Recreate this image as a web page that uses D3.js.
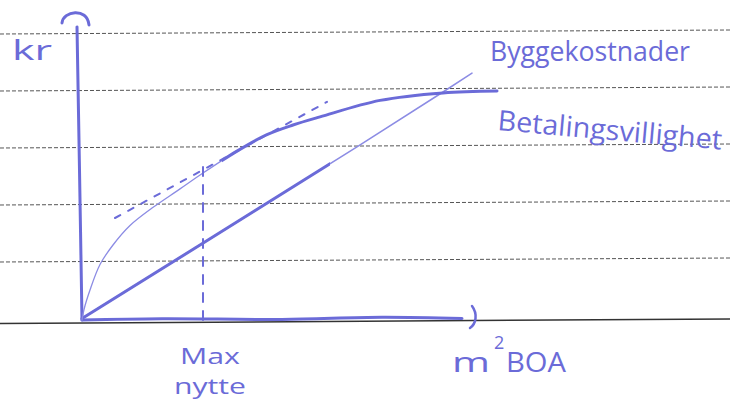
<!DOCTYPE html>
<html>
<head>
<meta charset="utf-8">
<script src="https://cdn.jsdelivr.net/npm/d3@7"></script>
<style>
    body { margin: 0; background: #ffffff; }
    text { font-family: "Open Sans", "DejaVu Sans", sans-serif; fill: #6b6bd8; }
</style>
</head>
<body>
<div id="wrapper"></div>
<script>
// values (x: m2 BOA, y: kr, both on a 0-100 scale)
const costPoints = [[0, 0.5], [29.5, 25], [68.75, 57.7], [90.25, 76], [97.5, 82.3]]
const payPoints = [[0, 0], [0.5, 3.5], [2, 10], [4.5, 18.5], [7.75, 25], [12, 31.5], [17.5, 37.3], [24.5, 43.7],
    [30.25, 49], [38.75, 56.3], [46.25, 61.8], [52.75, 65], [59.5, 67.7], [74.5, 73.2], [90.25, 75.7], [103.75, 76.3]]
const tangentPoints = [[8.25, 34], [61.25, 72.7]]
const maxUtility = { x: 30.25, top: 51 }
const xAxisEnd = 95
const yAxisTop = { x: -1.25, y: 97.7 }

const costLabel = "Byggekostnader"
const payLabel = "Betalingsvillighet"
const yLabel = "kr"
const xLabel = ["m", "2", "BOA"]
const maxLabel = ["Max", "nytte"]

const ink = "#6b6bd8"
const inkLight = "#8c8ce4"

function drawSketch() {
    const dimensions = { width: 730, height: 407 }

    const wrapper = d3.select("#wrapper")
        .append("svg")
        .attr("width", dimensions.width)
        .attr("height", dimensions.height)

    // ruled paper
    const paper = wrapper.append("g")
    d3.range(5).forEach(i => {
        const y = 34 + i * 57
        paper.append("line")
            .attr("x1", 0).attr("y1", y)
            .attr("x2", dimensions.width).attr("y2", y - 4)
            .attr("stroke", "#555")
            .attr("stroke-width", 1)
            .attr("stroke-dasharray", "4,2")
    })
    paper.append("line")
        .attr("x1", 0).attr("y1", 323.5)
        .attr("x2", dimensions.width).attr("y2", 319)
        .attr("stroke", "#333")
        .attr("stroke-width", 1.5)

    const xScale = d3.scaleLinear().domain([0, 100]).range([82, 482])
    const yScale = d3.scaleLinear().domain([0, 100]).range([320, 20])

    // clip areas for the parts drawn with heavier ink
    const defs = wrapper.append("defs")
    defs.append("clipPath").attr("id", "costThick")
        .append("rect")
        .attr("x", 0).attr("y", 0)
        .attr("width", xScale(62)).attr("height", dimensions.height)
    defs.append("clipPath").attr("id", "payThick")
        .append("rect")
        .attr("x", xScale(35)).attr("y", 0)
        .attr("width", dimensions.width).attr("height", dimensions.height)

    const bounds = wrapper.append("g")
        .attr("fill", "none")
        .attr("stroke-linecap", "round")
        .attr("stroke-linejoin", "round")

    const curveLine = d3.line()
        .x(d => xScale(d[0]))
        .y(d => yScale(d[1]))
        .curve(d3.curveCatmullRom)

    const straightLine = d3.line()
        .x(d => xScale(d[0]))
        .y(d => yScale(d[1]))

    // axes, drawn by hand
    bounds.append("path")
        .attr("d", curveLine([[0, 0], [yAxisTop.x * 0.5, 50], [yAxisTop.x, yAxisTop.y]]))
        .attr("stroke", ink)
        .attr("stroke-width", 3)
    const topX = xScale(yAxisTop.x)
    const topY = yScale(yAxisTop.y)
    bounds.append("path")
        .attr("d", `M${topX - 15},${topY - 4} C${topX - 14},${topY - 16} ${topX + 10},${topY - 20} ${topX + 12},${topY - 2}`)
        .attr("stroke", ink)
        .attr("stroke-width", 3)

    bounds.append("path")
        .attr("d", curveLine([[0, 0], [20, 0.4], [50, 0.2], [75, 0.9], [xAxisEnd, 0.5]]))
        .attr("stroke", ink)
        .attr("stroke-width", 3)
    const endX = xScale(xAxisEnd) + 10
    const endY = yScale(0)
    bounds.append("path")
        .attr("d", `M${endX},${endY - 14} C${endX + 6},${endY - 6} ${endX + 4},${endY + 4} ${endX - 2},${endY + 8}`)
        .attr("stroke", ink)
        .attr("stroke-width", 2.5)

    // building costs: thick first, thinner towards the end
    bounds.append("path")
        .attr("d", straightLine(costPoints))
        .attr("stroke", inkLight)
        .attr("stroke-width", 1.5)
    bounds.append("path")
        .attr("d", straightLine(costPoints))
        .attr("clip-path", "url(#costThick)")
        .attr("stroke", ink)
        .attr("stroke-width", 3)

    // willingness to pay: thin start, thick upper part
    bounds.append("path")
        .attr("d", curveLine(payPoints))
        .attr("stroke", inkLight)
        .attr("stroke-width", 1.3)
    bounds.append("path")
        .attr("d", curveLine(payPoints))
        .attr("clip-path", "url(#payThick)")
        .attr("stroke", ink)
        .attr("stroke-width", 3)

    // tangent parallel to costs
    bounds.append("path")
        .attr("d", straightLine(tangentPoints))
        .attr("stroke", ink)
        .attr("stroke-width", 2)
        .attr("stroke-dasharray", "6,9")

    // max utility
    bounds.append("path")
        .attr("d", straightLine([[maxUtility.x, maxUtility.top], [maxUtility.x, 0]]))
        .attr("stroke", ink)
        .attr("stroke-width", 2)
        .attr("stroke-dasharray", "9,9")

    // handwriting
    const labels = wrapper.append("g")
    labels.append("text")
        .attr("x", 12).attr("y", 60)
        .attr("font-size", 28)
        .attr("textLength", 40).attr("lengthAdjust", "spacingAndGlyphs")
        .text(yLabel)
    labels.append("text")
        .attr("x", 490).attr("y", 61)
        .attr("font-size", 28)
        .attr("textLength", 200).attr("lengthAdjust", "spacingAndGlyphs")
        .text(costLabel)
    labels.append("text")
        .attr("x", 497).attr("y", 130)
        .attr("font-size", 28)
        .attr("textLength", 225).attr("lengthAdjust", "spacingAndGlyphs")
        .attr("transform", "rotate(5, 497, 130)")
        .text(payLabel)

    const maxX = xScale(maxUtility.x) + 7
    labels.append("text")
        .attr("x", maxX).attr("y", 364)
        .attr("font-size", 22)
        .attr("text-anchor", "middle")
        .attr("textLength", 60).attr("lengthAdjust", "spacingAndGlyphs")
        .text(maxLabel[0])
    labels.append("text")
        .attr("x", maxX).attr("y", 394)
        .attr("font-size", 22)
        .attr("text-anchor", "middle")
        .attr("textLength", 72).attr("lengthAdjust", "spacingAndGlyphs")
        .text(maxLabel[1])

    labels.append("text")
        .attr("x", 452).attr("y", 372)
        .attr("font-size", 28)
        .attr("textLength", 38).attr("lengthAdjust", "spacingAndGlyphs")
        .text(xLabel[0])
    labels.append("text")
        .attr("x", 494).attr("y", 349)
        .attr("font-size", 18)
        .text(xLabel[1])
    labels.append("text")
        .attr("x", 506).attr("y", 372)
        .attr("font-size", 28)
        .attr("textLength", 60).attr("lengthAdjust", "spacingAndGlyphs")
        .text(xLabel[2])
}

drawSketch()
</script>
</body>
</html>
